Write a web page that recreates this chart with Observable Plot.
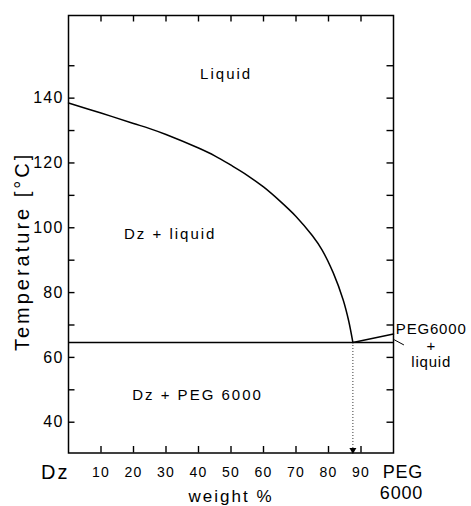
<!DOCTYPE html>
<html>
<head>
<meta charset="utf-8">
<script src="https://cdn.jsdelivr.net/npm/d3@7"></script>
<script src="https://cdn.jsdelivr.net/npm/@observablehq/plot@0.6"></script>
<style>
  html, body { margin: 0; padding: 0; background: #fff; }
  #chart svg { display: block; }
</style>
</head>
<body>
<div id="chart"></div>
<script>
// Liquidus of Dz (left branch)
const liqX = [0, 10, 20, 25, 30, 40, 45, 50, 55, 60, 65, 70, 75, 78, 81.5, 84.5, 86.2, 87.5];
const liqT = [138.5, 135.4, 132.2, 130.6, 128.8, 124.6, 122.2, 119.3, 116.2, 112.6, 108.3, 103.5, 97.6, 93.2, 86.0, 77.8, 71.3, 64.6];
// Liquidus of PEG 6000 (right branch)
const pegX = [87.5, 100];
const pegT = [64.6, 67.2];
// Eutectic
const eutecticX = 87.5;
const eutecticT = 64.6;
// Axis ticks
const xTicks = [10, 20, 30, 40, 50, 60, 70, 80, 90];
const xTickLabels = ["10", "20", "30", "40", "50", "60", "70", "80", "90"];
const yTicks = [40, 50, 60, 70, 80, 90, 100, 110, 120, 130, 140, 150];
const yTickLabels = [40, 60, 80, 100, 120, 140];
// Region labels
const regionLabels = ["Liquid", "Dz + liquid", "Dz + PEG 6000"];
const regionX = [48.5, 31.3, 39.7];
const regionT = [147.5, 97.9, 48.4];
// Leader line for "PEG6000 + liquid"
const leaderX = [100.3, 103.1];
const leaderT = [65.4, 63.9];

const xDomain = [0, 100];
const yDomain = [30.5, 165.5];
const font = "'Liberation Sans', Arial, sans-serif";

const W = 471, H = 506, mL = 68, mR = 78, mT = 15, mB = 53.5;
const plotW = W - mL - mR, plotH = H - mT - mB, tickLen = 6.5;

const liquidus = liqX.map((x, i) => ({x, t: liqT[i]}));
const pegLine = pegX.map((x, i) => ({x, t: pegT[i]}));
const leader = leaderX.map((x, i) => ({x, t: leaderT[i]}));
const regions = regionLabels.map((label, i) => ({label, x: regionX[i], t: regionT[i]}));

const tickStyle = {stroke: "#000", strokeWidth: 1.4};

const chart = Plot.plot({
  width: W,
  height: H,
  marginLeft: mL,
  marginRight: mR,
  marginTop: mT,
  marginBottom: mB,
  style: {fontFamily: font, color: "#000", background: "#fff"},
  x: {domain: xDomain},
  y: {domain: yDomain},
  marks: [
    // inward tick marks on all four sides
    Plot.tickX(xTicks, {x: (d) => d, insetTop: plotH - tickLen, ...tickStyle}),
    Plot.tickX(xTicks, {x: (d) => d, insetBottom: plotH - tickLen, ...tickStyle}),
    Plot.tickY(yTicks, {y: (d) => d, insetRight: plotW - tickLen, ...tickStyle}),
    Plot.tickY(yTicks, {y: (d) => d, insetLeft: plotW - tickLen, ...tickStyle}),
    // tick labels
    Plot.axisX({anchor: "bottom", ticks: xTicks, tickSize: 0, tickPadding: 14, tickFormat: (d) => xTickLabels[xTicks.indexOf(d)], label: null, fontSize: 14}),
    Plot.axisY({anchor: "left", ticks: yTickLabels, tickSize: 0, tickPadding: 5, label: null, fontSize: 16}),
    // frame
    Plot.frame({stroke: "#000", strokeWidth: 1.5}),
    // eutectic line
    Plot.ruleY([eutecticT], {x1: xDomain[0], x2: xDomain[1], stroke: "#000", strokeWidth: 1.5}),
    // liquidus curves
    Plot.line(liquidus, {x: "x", y: "t", curve: "catmull-rom", stroke: "#000", strokeWidth: 1.5}),
    Plot.line(pegLine, {x: "x", y: "t", stroke: "#000", strokeWidth: 1.5}),
    // dotted projection of the eutectic composition with arrow
    Plot.ruleX([eutecticX], {y1: eutecticT, y2: yDomain[0], stroke: "#000", strokeWidth: 0.8, strokeDasharray: "1,2"}),
    Plot.dot([eutecticX], {x: (d) => d, y: yDomain[0], symbol: "triangle", rotate: 180, r: 2.6, fill: "#000", stroke: "none", dy: -3}),
    // leader line
    Plot.line(leader, {x: "x", y: "t", stroke: "#000", strokeWidth: 1}),
    // region labels
    Plot.text(regions, {x: "x", y: "t", text: "label", fontSize: 15, fill: "#000"}),
    Plot.text(["PEG6000\n+\nliquid"], {x: 111.6, y: 63.7, text: (d) => d, fontSize: 15, lineHeight: 1.1, fill: "#000"}),
    // composition end labels
    Plot.text(["Dz"], {x: -4.1, frameAnchor: "bottom", dy: 19.5, lineAnchor: "middle", textAnchor: "middle", text: (d) => d, fontSize: 20, fill: "#000"}),
    Plot.text(["PEG\n6000"], {x: 109.1, frameAnchor: "bottom", dy: 28.5, lineAnchor: "middle", text: (d) => d, fontSize: 18, lineHeight: 1.2, textAnchor: "end", fill: "#000"}),
    // axis titles
    Plot.text(["weight %"], {x: 50, frameAnchor: "bottom", dy: 44, lineAnchor: "middle", textAnchor: "middle", text: (d) => d, fontSize: 17, fill: "#000"}),
    Plot.text(["Temperature [°C]"], {y: 92.7, frameAnchor: "left", dx: -46, rotate: -90, lineAnchor: "middle", textAnchor: "middle", text: (d) => d, fontSize: 20, fill: "#000"})
  ]
});
document.getElementById("chart").appendChild(chart);
// letter spacing for the stencil-like lettering
const svg = d3.select(chart);
svg.selectAll("text").style("letter-spacing", "1.2px");
svg.selectAll("g[aria-label='text'] text").style("letter-spacing", "2px");
svg.selectAll("g[aria-label='text'] text").filter(function () { return this.textContent === "Temperature [°C]"; }).style("letter-spacing", "3px");
svg.selectAll("g[aria-label='text'] text").filter(function () { return this.textContent.startsWith("PEG6000"); }).style("letter-spacing", "0.8px");
</script>
</body>
</html>
